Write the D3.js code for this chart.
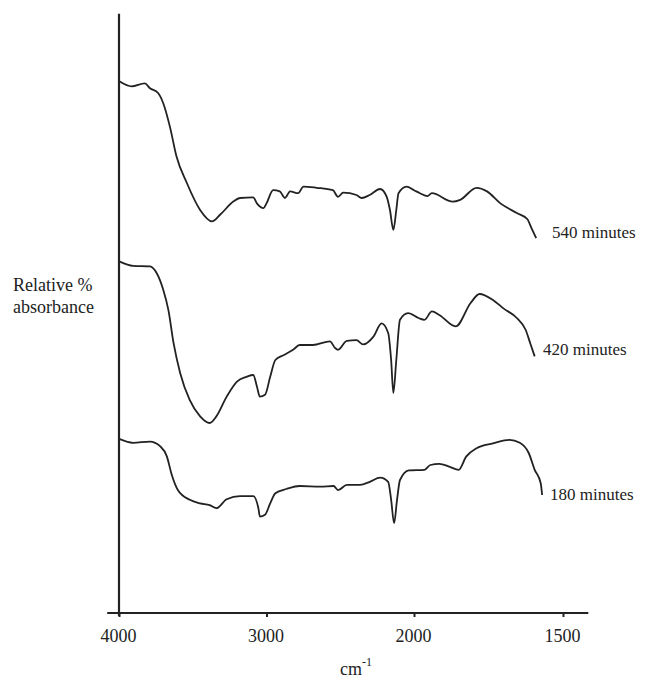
<!doctype html>
<html>
  <head>
    <meta charset="utf-8">
    <title>IR spectra</title>
    <script src="https://cdnjs.cloudflare.com/ajax/libs/d3/7.8.5/d3.min.js"></script>
    <style>
      body { margin: 0; background: #fff; }
      text { font-family: "Liberation Serif", "DejaVu Serif", serif; fill: #222; }
    </style>
  </head>
  <body>
    <div id="chart"></div>
    <script>

      // wavenumbers (cm-1) and relative absorbance
      const wn540 = [3995, 3915, 3825, 3790, 3735, 3700, 3655, 3610, 3540, 3450, 3370, 3315, 3225, 3180, 3090, 3065, 3020, 3000, 2955, 2910, 2875, 2840, 2785, 2750, 2660, 2550, 2515, 2480, 2390, 2355, 2300, 2230, 2185, 2163, 2140, 2120, 2105, 2050, 2000, 1980, 1955, 1940, 1870, 1845, 1790, 1755, 1710, 1655, 1620, 1605, 1590];
      const abs540 = [88.4, 87.6, 88.1, 87.3, 86.5, 84.8, 80.9, 75.9, 71.5, 67.0, 65.1, 66.2, 68.4, 69.0, 69.1, 68.1, 67.3, 68.1, 70.3, 70.1, 69.0, 70.1, 69.8, 70.9, 70.7, 70.3, 69.2, 69.9, 69.5, 69.0, 69.5, 70.5, 69.2, 67.0, 63.7, 67.0, 69.8, 70.9, 70.3, 69.8, 69.3, 69.8, 68.4, 68.7, 70.7, 70.1, 68.1, 66.5, 65.5, 63.9, 62.3];

      const wn420 = [3995, 3905, 3790, 3745, 3700, 3665, 3630, 3585, 3520, 3450, 3385, 3340, 3270, 3200, 3135, 3090, 3065, 3045, 3010, 2975, 2940, 2885, 2820, 2775, 2685, 2570, 2535, 2515, 2455, 2390, 2345, 2275, 2220, 2175, 2155, 2140, 2120, 2095, 2040, 1985, 1965, 1940, 1915, 1860, 1810, 1780, 1735, 1700, 1655, 1625, 1610, 1595];
      const abs420 = [58.4, 57.7, 57.6, 56.5, 53.7, 50.3, 44.8, 39.8, 35.3, 32.6, 31.5, 32.6, 35.9, 38.4, 39.2, 39.5, 37.6, 35.9, 36.2, 39.2, 42.0, 42.8, 43.7, 44.5, 44.5, 45.1, 44.0, 43.7, 45.2, 45.3, 44.6, 45.9, 48.1, 46.5, 42.0, 36.5, 42.0, 48.7, 49.8, 49.0, 48.7, 50.1, 49.5, 47.6, 51.5, 53.0, 52.0, 50.6, 49.0, 47.0, 44.8, 42.6];

      const wn180 = [3995, 3905, 3790, 3720, 3675, 3645, 3600, 3520, 3450, 3385, 3340, 3270, 3180, 3090, 3055, 3045, 3010, 2975, 2940, 2865, 2775, 2635, 2545, 2515, 2455, 2365, 2300, 2230, 2175, 2155, 2135, 2115, 2095, 2035, 1965, 1945, 1915, 1880, 1850, 1825, 1790, 1735, 1680, 1645, 1615, 1595, 1575, 1570];
      const abs180 = [28.8, 28.2, 28.4, 27.6, 25.9, 23.1, 20.3, 18.7, 18.1, 17.8, 17.3, 18.8, 19.3, 19.3, 17.3, 15.9, 16.2, 18.1, 19.8, 20.5, 21.0, 20.9, 21.0, 20.3, 21.2, 21.2, 21.7, 22.4, 21.7, 18.7, 14.8, 18.7, 22.0, 23.6, 23.7, 24.5, 24.7, 24.2, 23.7, 25.9, 27.3, 28.1, 28.7, 28.2, 26.5, 23.7, 21.5, 19.5];

      const seriesNames = ["540 minutes", "420 minutes", "180 minutes"];
      const tickValues = [4000, 3000, 2000, 1500];

      const width = 647, height = 679;

      const svg = d3.select("#chart")
        .append("svg")
        .attr("width", width)
        .attr("height", height);

      // the wavenumber axis changes scale at 2000
      const x = d3.scaleLinear()
        .domain([4000, 2000, 1500])
        .range([119, 414, 563]);

      const y = d3.scaleLinear()
        .domain([0, 100])
        .range([612, 12]);

      const axisY = 613;

      // x axis
      const xAxis = svg.append("g")
        .attr("transform", `translate(0,${axisY})`)
        .call(d3.axisBottom(x).tickValues(tickValues).tickSize(4).tickFormat(d3.format("d")))
        .attr("font-family", "'Liberation Serif', serif")
        .attr("font-size", 18);

      xAxis.select(".domain").remove();
      xAxis.selectAll(".tick line")
        .attr("stroke", "#222")
        .attr("stroke-width", 2);
      xAxis.selectAll(".tick text")
        .attr("x", -1)
        .attr("y", 29)
        .attr("dy", 0)
        .attr("fill", "#222");

      xAxis.append("line")
        .attr("x1", x(4080))
        .attr("x2", x(1415))
        .attr("stroke", "#222")
        .attr("stroke-width", 2);

      // y axis (no ticks)
      svg.append("line")
        .attr("x1", x(4000))
        .attr("x2", x(4000))
        .attr("y1", y(99.7))
        .attr("y2", axisY + 3)
        .attr("stroke", "#222")
        .attr("stroke-width", 2.2);

      // spectra
      const line = d3.line()
        .x(d => x(d[0]))
        .y(d => y(d[1]))
        .curve(d3.curveMonotoneX);

      const series = [
        { name: seriesNames[0], pts: d3.zip(wn540, abs540), lx: 552, ly: 238 },
        { name: seriesNames[1], pts: d3.zip(wn420, abs420), lx: 543, ly: 355 },
        { name: seriesNames[2], pts: d3.zip(wn180, abs180), lx: 550, ly: 500 }
      ];

      svg.selectAll("path.spec")
        .data(series)
        .join("path")
        .attr("class", "spec")
        .attr("d", d => line(d.pts))
        .attr("fill", "none")
        .attr("stroke", "#222")
        .attr("stroke-width", 1.8)
        .attr("stroke-linejoin", "round");

      svg.selectAll("text.lab")
        .data(series)
        .join("text")
        .attr("class", "lab")
        .attr("x", d => d.lx)
        .attr("y", d => d.ly)
        .style("font-size", "17px")
        .text(d => d.name);

      // y label
      const yl = svg.append("text")
        .attr("x", 13)
        .attr("y", 291)
        .style("font-size", "18px");
      yl.append("tspan").text("Relative %");
      yl.append("tspan").attr("x", 13).attr("dy", 22).text("absorbance");

      // x label
      const xl = svg.append("text")
        .attr("x", 340)
        .attr("y", 675)
        .style("font-size", "18px");
      xl.append("tspan").text("cm");
      xl.append("tspan")
        .attr("dy", -9)
        .style("font-size", "12px")
        .text("-1");

    </script>
  </body>
</html>
